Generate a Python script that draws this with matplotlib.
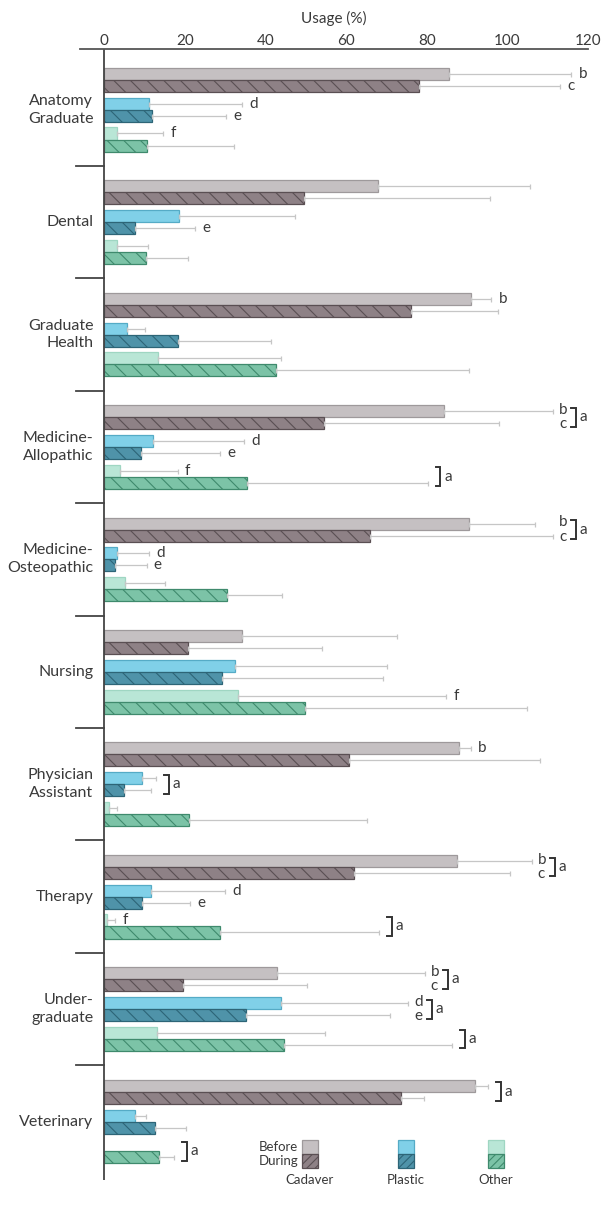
import matplotlib.pyplot as plt
import numpy as np
from matplotlib.patches import Rectangle

plt.rcParams['font.family'] = ['Lato', 'DejaVu Sans']
plt.rcParams['hatch.linewidth'] = 0.8

# данные
groups = ['Anatomy\nGraduate', 'Dental', 'Graduate\nHealth', 'Medicine-\nAllopathic',
          'Medicine-\nOsteopathic', 'Nursing', 'Physician\nAssistant', 'Therapy',
          'Under-\ngraduate', 'Veterinary']

cadaver_before = [85.4, 67.8, 91.1, 84.2, 90.6, 34.2, 88.0, 87.5, 42.8, 92.0]
cadaver_before_sd = [30.5, 37.8, 4.9, 27.1, 16.3, 38.4, 2.9, 18.5, 36.7, 3.1]
cadaver_during = [78.1, 49.6, 76.2, 54.4, 65.9, 20.9, 60.7, 62.0, 19.6, 73.5]
cadaver_during_sd = [35.0, 46.0, 21.5, 43.6, 45.4, 33.0, 47.5, 38.6, 30.6, 5.7]

plastic_before = [11.2, 18.6, 5.7, 12.0, 3.1, 32.4, 9.3, 11.7, 43.9, 7.7]
plastic_before_sd = [23.0, 28.8, 4.5, 22.7, 8.0, 37.8, 3.5, 18.2, 31.5, 2.7]
plastic_during = [11.9, 7.6, 18.4, 9.2, 2.8, 29.2, 5.0, 9.3, 35.1, 12.7]
plastic_during_sd = [18.3, 14.9, 23.0, 19.5, 7.7, 39.9, 6.7, 11.9, 35.9, 7.5]

other_before = [3.3, 3.1, 13.4, 3.8, 5.1, 33.1, 1.1, 0.6, 13.2, np.nan]
other_before_sd = [11.4, 7.8, 30.5, 14.4, 9.9, 51.8, 2.0, 2.1, 41.6, np.nan]
other_during = [10.5, 10.3, 42.6, 35.4, 30.5, 49.9, 21.1, 28.8, 44.7, 13.7]
other_during_sd = [21.8, 10.5, 47.8, 44.8, 13.6, 54.9, 44.2, 39.3, 41.6, 3.6]

# буквы значимости (before, during) и скобки "a"
cadaver_marks = [('b', 'c'), ('', ''), ('b', ''), ('b', 'c'), ('b', 'c'),
                 ('', ''), ('b', ''), ('b', 'c'), ('b', 'c'), ('', '')]
plastic_marks = [('d', 'e'), ('', 'e'), ('', ''), ('d', 'e'), ('d', 'e'),
                 ('', ''), ('', ''), ('d', 'e'), ('d', 'e'), ('', '')]
other_marks = [('f', ''), ('', ''), ('', ''), ('f', ''), ('', ''),
               ('f', ''), ('', ''), ('f', ''), ('', ''), ('', '')]
cadaver_bracket = [0, 0, 0, 1, 1, 0, 0, 1, 1, 1]
plastic_bracket = [0, 0, 0, 0, 0, 0, 1, 0, 1, 0]
other_bracket = [0, 0, 0, 1, 0, 0, 0, 1, 1, 1]

series = [
    ('Cadaver', cadaver_before, cadaver_before_sd, cadaver_during, cadaver_during_sd,
     cadaver_marks, cadaver_bracket, ('#c5c0c2', '#9e999b'), ('#8e8186', '#5a4f53')),
    ('Plastic', plastic_before, plastic_before_sd, plastic_during, plastic_during_sd,
     plastic_marks, plastic_bracket, ('#80d0e8', '#55abc6'), ('#4f93a9', '#2d6577')),
    ('Other', other_before, other_before_sd, other_during, other_during_sd,
     other_marks, other_bracket, ('#b9e6d6', '#9fd6c2'), ('#7cc3a7', '#3f8a6d')),
]

TXT = '#3a3a3a'
W, H = 604, 1213
fig = plt.figure(figsize=(W / 100, H / 100), dpi=100)
ax = fig.add_axes([80 / W, 1 - 1180 / H, 508 / W, (1180 - 49) / H])

y = np.arange(len(groups))
h = 0.107
pair_off = [-0.265, 0.0, 0.265]

def bracket(x, y0, y1):
    ax.plot([x - 1.2, x, x, x - 1.2], [y0, y0, y1, y1], color='#333333', lw=1.4,
            clip_on=False, solid_joinstyle='miter')
    ax.text(x + 0.9, (y0 + y1) / 2, 'a', ha='left', va='center', fontsize=11, color=TXT,
            clip_on=False)

for k, (name, bv, bsd, dv, dsd, marks, brk, bcol, dcol) in enumerate(series):
    yb = y + pair_off[k] - h / 2
    yd = y + pair_off[k] + h / 2
    bv = np.array(bv); dv = np.array(dv)
    bsd = np.array(bsd); dsd = np.array(dsd)
    ok = ~np.isnan(bv)
    ax.barh(yb[ok], bv[ok], height=h, color=bcol[0], edgecolor=bcol[1], linewidth=0.9)
    ax.barh(yd, dv, height=h, color=dcol[0], edgecolor=dcol[1], linewidth=0.9, hatch='\\\\')
    ax.errorbar(bv[ok], yb[ok], xerr=[np.zeros(ok.sum()), bsd[ok]], fmt='none',
                ecolor='#c6c6c6', elinewidth=0.9, capsize=1.8, capthick=0.9)
    ax.errorbar(dv, yd, xerr=[np.zeros(len(dv)), dsd], fmt='none',
                ecolor='#c6c6c6', elinewidth=0.9, capsize=1.8, capthick=0.9)

    for i in range(len(groups)):
        eb = 0 if np.isnan(bv[i]) else bv[i] + bsd[i]
        ed = dv[i] + dsd[i]
        top = max(eb, ed)
        lb, ld = marks[i]
        if brk[i] and lb and ld:
            ax.text(top + 1.5, yb[i] - 0.01, lb, ha='left', va='center', fontsize=11, color=TXT)
            ax.text(top + 1.5, yd[i] + 0.01, ld, ha='left', va='center', fontsize=11, color=TXT)
            bracket(top + 5.8, yb[i] - 0.03, yd[i] + 0.03)
        else:
            if lb:
                ax.text(eb + 1.8, yb[i], lb, ha='left', va='center', fontsize=11, color=TXT)
            if ld:
                ax.text(ed + 1.8, yd[i], ld, ha='left', va='center', fontsize=11, color=TXT)
            if brk[i]:
                bracket(top + 3.2, yb[i] - 0.03, yd[i] + 0.03)

# подписи групп и разделители
for i, g in enumerate(groups):
    ax.text(-2.7, y[i], g, ha='right', va='center', fontsize=11.5, color=TXT,
            linespacing=1.35, clip_on=False)
for i in range(len(groups) - 1):
    ax.plot([-7, 0], [i + 0.5, i + 0.5], color='#444444', lw=1.3, clip_on=False)

ax.axvline(0, color='#444444', lw=1.3)
ax.set_xlim(-6, 120)
ax.set_ylim(9.52, -0.54)
ax.set_xticks(np.arange(0, 121, 20))
ax.xaxis.tick_top()
ax.xaxis.set_label_position('top')
ax.tick_params(axis='x', length=0, labelsize=11, labelcolor=TXT, pad=1)
ax.set_xlabel('Usage (%)', fontsize=11, color=TXT, labelpad=8)
ax.set_yticks([])
for s in ['left', 'right', 'bottom']:
    ax.spines[s].set_visible(False)
ax.spines['top'].set_color('#555555')
ax.spines['top'].set_linewidth(1.3)

# легенда снизу
def fx(px):
    return px / W

def fy(py):
    return 1 - py / H

fig.text(fx(298), fy(1147), 'Before', ha='right', va='center', fontsize=9.5, color=TXT)
fig.text(fx(298), fy(1161), 'During', ha='right', va='center', fontsize=9.5, color=TXT)
for xc, (name, *_rest) in zip([310, 406, 496], series):
    bcol, dcol = _rest[-2], _rest[-1]
    fig.add_artist(Rectangle((fx(xc - 8), fy(1154)), fx(16), 14 / H, transform=fig.transFigure,
                             facecolor=bcol[0], edgecolor=bcol[1], lw=0.9))
    fig.add_artist(Rectangle((fx(xc - 8), fy(1168)), fx(16), 14 / H, transform=fig.transFigure,
                             facecolor=dcol[0], edgecolor=dcol[1], lw=0.9, hatch='////'))
    fig.text(fx(xc), fy(1180), name, ha='center', va='center', fontsize=9.5, color=TXT)

fig.savefig('out.png', dpi=100)
